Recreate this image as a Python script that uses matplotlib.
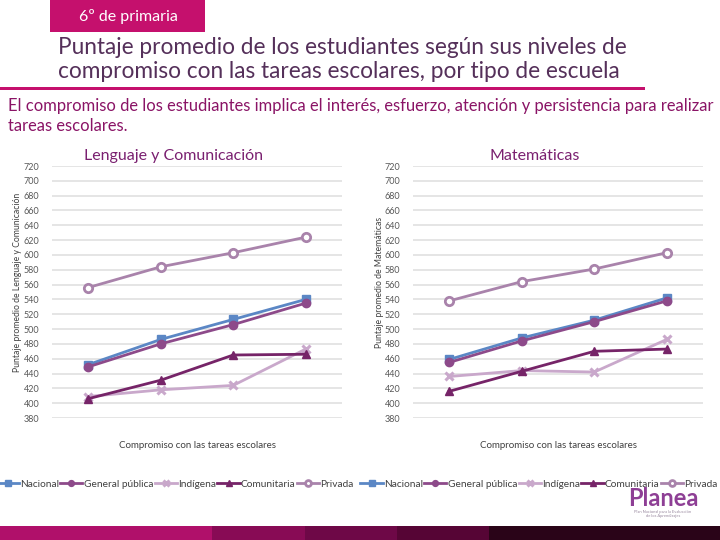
import matplotlib.pyplot as plt
from matplotlib.patches import Rectangle

plt.rcParams['font.family'] = ['Lato', 'DejaVu Sans']

levels = ["Bajo", "Medio bajo", "Medio alto", "Alto"]
series = ["Nacional", "General pública", "Indígena", "Comunitaria", "Privada"]

# Lenguaje y Comunicación
leng_nacional = [452, 486, 513, 540]
leng_general = [449, 480, 506, 535]
leng_indigena = [409, 418, 424, 473]
leng_comunitaria = [406, 431, 465, 466]
leng_privada = [556, 584, 603, 624]

# Matemáticas
mat_nacional = [459, 488, 512, 542]
mat_general = [455, 484, 510, 538]
mat_indigena = [436, 444, 442, 486]
mat_comunitaria = [416, 443, 470, 473]
mat_privada = [538, 564, 581, 603]

colors = ["#5b87c5", "#8d4a8a", "#c9a8cb", "#762468", "#a983ab"]
markers = ["s", "o", "x", "^", "o"]
magenta = "#c5106d"
purple = "#7a2070"

fig = plt.figure(figsize=(7.2, 5.4), dpi=100)

# header
fig.patches.append(Rectangle((50 / 720, 1 - 32 / 540), 155 / 720, 32 / 540,
                             transform=fig.transFigure, color=magenta, lw=0))
fig.text(128 / 720, 1 - 17 / 540, "6º de primaria", color="white", fontsize=11.5,
         ha="center", va="center")
fig.text(58 / 720, 1 - 47 / 540, "Puntaje promedio de los estudiantes según sus niveles de",
         color="#55305a", fontsize=16.3, ha="left", va="center")
fig.text(58 / 720, 1 - 72 / 540, "compromiso con las tareas escolares, por tipo de escuela",
         color="#55305a", fontsize=16.3, ha="left", va="center")
fig.patches.append(Rectangle((0, 1 - 90 / 540), 645 / 720, 3 / 540,
                             transform=fig.transFigure, color=magenta, lw=0))
fig.text(8 / 720, 1 - 106 / 540,
         "El compromiso de los estudiantes implica el interés, esfuerzo, atención y persistencia para realizar",
         color="#8a1466", fontsize=11.9, ha="left", va="center")
fig.text(8 / 720, 1 - 126 / 540, "tareas escolares.",
         color="#8a1466", fontsize=11.9, ha="left", va="center")

panels = [
    ("Lenguaje y Comunicación", "Puntaje promedio de Lenguaje y Comunicación", 52, 175,
     [leng_nacional, leng_general, leng_indigena, leng_comunitaria, leng_privada]),
    ("Matemáticas", "Puntaje promedio de Matemáticas", 413, 539,
     [mat_nacional, mat_general, mat_indigena, mat_comunitaria, mat_privada]),
]

for title, ylabel, x0, leg_x, data in panels:
    ax = fig.add_axes([x0 / 720, 1 - 418 / 540, 290 / 720, 252 / 540])
    x = list(range(len(levels)))
    for name, vals, c, m in zip(series, data, colors, markers):
        if name == "Privada":
            ax.plot(x, vals, color=c, lw=2, marker=m, ms=6, mfc="white", mew=2, label=name)
        elif m == "x":
            ax.plot(x, vals, color=c, lw=2, marker=m, ms=6, mew=2.2, label=name)
        else:
            ax.plot(x, vals, color=c, lw=2, marker=m, ms=6, label=name)
    ax.set_xlim(-0.5, 3.5)
    ax.set_ylim(380, 720)
    ax.set_yticks(range(380, 721, 20))
    ax.set_xticks([])
    ax.grid(axis="y", color="#e3e3e3", lw=1.3)
    ax.set_axisbelow(True)
    for s in ax.spines.values():
        s.set_visible(False)
    ax.tick_params(axis="y", length=0, pad=9, labelsize=6.5, labelcolor="#595959")
    ax.text(0.42, 1.04, title, transform=ax.transAxes, ha="center", va="center",
            color=purple, fontsize=11.5)
    fig.text((x0 - 34) / 720, 1 - 282 / 540, ylabel, rotation=90, ha="center",
             va="center", fontsize=6.2, color="#404040")
    fig.text((x0 + 145) / 720, 1 - 446 / 540, "Compromiso con las tareas escolares",
             ha="center", va="center", fontsize=7, color="#404040")
    handles, labels = ax.get_legend_handles_labels()
    fig.legend(handles, labels, loc="center", ncol=5,
               bbox_to_anchor=(leg_x / 720, 1 - 484 / 540),
               frameon=False, fontsize=7.3, handlelength=2.2, handletextpad=0.1,
               columnspacing=0.15, markerscale=0.7, borderpad=0, borderaxespad=0,
               labelcolor="#404040")

# Planea logo
fig.text(663 / 720, 1 - 499 / 540, "Planea", color="#8e3f95", fontsize=17,
         fontweight="bold", ha="center", va="center")
fig.text(663 / 720, 1 - 514 / 540, "Plan Nacional para la Evaluación\nde los Aprendizajes",
         color="#9a8aa0", fontsize=3, ha="center", va="center", linespacing=1.1)

# bottom band
band_edges = [0, 212, 305, 397, 489, 720]
band_colors = ["#b0106a", "#880b55", "#6e0847", "#560535", "#2a0418"]
for i, bc in enumerate(band_colors):
    fig.patches.append(Rectangle((band_edges[i] / 720, 0),
                                 (band_edges[i + 1] - band_edges[i]) / 720, 14 / 540,
                                 transform=fig.transFigure, color=bc, lw=0))

fig.savefig("out.png", dpi=100)
